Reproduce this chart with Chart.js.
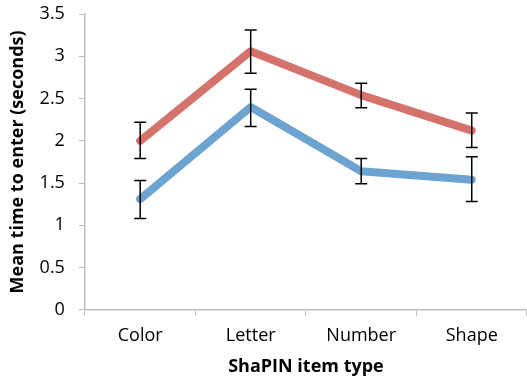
<!DOCTYPE html>
<html lang="en">
<head>
<meta charset="UTF-8">
<title>ShaPIN entry time</title>
<script src="https://cdn.jsdelivr.net/npm/chart.js"></script>
<style>
  html, body { margin: 0; padding: 0; background: #fff; }
  #wrap { width: 527px; height: 380px; }
</style>
</head>
<body>
<div id="wrap"><canvas id="myChart" width="527" height="380"></canvas></div>
<script>
const categories = ['Color', 'Letter', 'Number', 'Shape'];
const redMeans = [2.0, 3.06, 2.54, 2.12];
const redLow = [1.79, 2.80, 2.39, 1.92];
const redHigh = [2.22, 3.31, 2.68, 2.33];
const blueMeans = [1.31, 2.40, 1.64, 1.54];
const blueLow = [1.08, 2.17, 1.49, 1.28];
const blueHigh = [1.53, 2.61, 1.79, 1.81];
const yTicks = [0, 0.5, 1, 1.5, 2, 2.5, 3, 3.5];

const errBars = [
  { low: redLow, high: redHigh },
  { low: blueLow, high: blueHigh }
];

// draws the black error bars over the lines
const errorBarPlugin = {
  id: 'errorBars',
  afterDatasetsDraw(chart) {
    const ctx = chart.ctx;
    const x = chart.scales.x, y = chart.scales.y;
    ctx.save();
    ctx.strokeStyle = '#000';
    ctx.lineWidth = 1.5;
    errBars.forEach(eb => {
      eb.low.forEach((lo, i) => {
        const px = x.getPixelForValue(i);
        const top = y.getPixelForValue(eb.high[i]);
        const bot = y.getPixelForValue(lo);
        ctx.beginPath();
        ctx.moveTo(px, top); ctx.lineTo(px, bot);
        ctx.moveTo(px - 6, top); ctx.lineTo(px + 6, top);
        ctx.moveTo(px - 6, bot); ctx.lineTo(px + 6, bot);
        ctx.stroke();
      });
    });
    ctx.restore();
  }
};

const ctx = document.getElementById('myChart').getContext('2d');
new Chart(ctx, {
  type: 'line',
  data: {
    labels: categories,
    datasets: [
      {
        label: 'A',
        data: redMeans,
        borderColor: '#D4736B',
        borderWidth: 8,
        borderCapStyle: 'round',
        borderJoinStyle: 'round',
        pointRadius: 0,
        tension: 0
      },
      {
        label: 'B',
        data: blueMeans,
        borderColor: '#6CA3D0',
        borderWidth: 8,
        borderCapStyle: 'round',
        borderJoinStyle: 'round',
        pointRadius: 0,
        tension: 0
      }
    ]
  },
  options: {
    responsive: false,
    animation: false,
    layout: { padding: { top: 14, right: 0, left: 5, bottom: 0 } },
    plugins: {
      legend: { display: false },
      tooltip: { enabled: false }
    },
    scales: {
      x: {
        offset: true,
        grid: {
          offset: true,
          drawOnChartArea: false,
          color: '#BFBFBF',
          tickLength: 6,
          tickColor: '#BFBFBF'
        },
        border: { color: '#BFBFBF', width: 1.5 },
        ticks: {
          color: '#000',
          padding: 9,
          font: { family: 'Open Sans', size: 18 }
        },
        title: {
          display: true,
          text: 'ShaPIN item type',
          color: '#000',
          padding: { top: 1, bottom: 2 },
          font: { family: 'Open Sans', size: 18, weight: 'bold' }
        }
      },
      y: {
        min: 0,
        max: 3.5,
        afterBuildTicks(scale) {
          scale.ticks = yTicks.map(v => ({ value: v }));
        },
        afterFit(scale) {
          scale.paddingTop = 0;
        },
        grid: {
          drawOnChartArea: false,
          color: '#BFBFBF',
          tickLength: 6,
          tickColor: '#BFBFBF'
        },
        border: { color: '#BFBFBF', width: 1.5 },
        ticks: {
          color: '#000',
          padding: 14,
          font: { family: 'Open Sans', size: 18 },
          callback: v => String(v)
        },
        title: {
          display: true,
          text: 'Mean time to enter (seconds)',
          color: '#000',
          padding: { top: 2, bottom: -3 },
          font: { family: 'Open Sans', size: 18, weight: 'bold' }
        }
      }
    }
  },
  plugins: [errorBarPlugin]
});
</script>
</body>
</html>
